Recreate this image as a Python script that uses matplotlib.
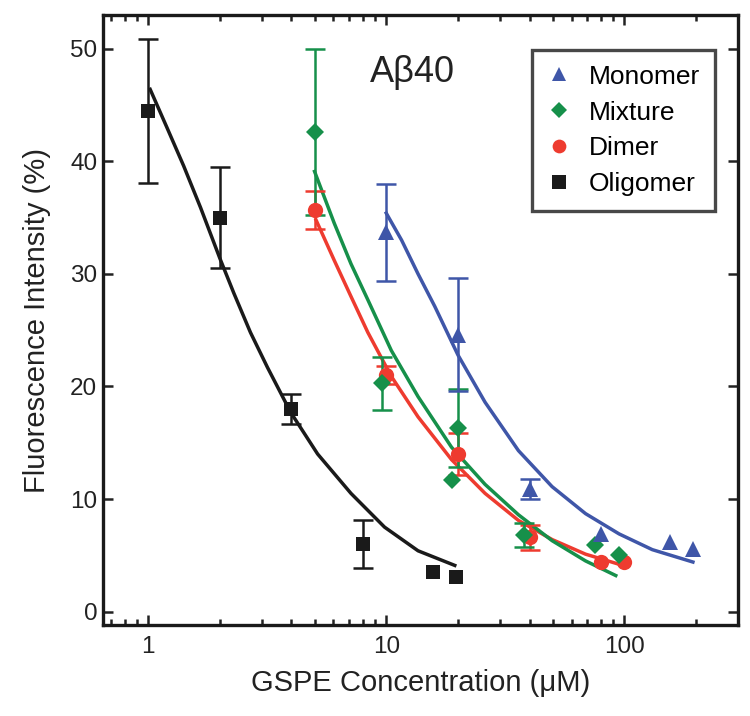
import numpy as np
import matplotlib
matplotlib.use('Agg')
import matplotlib.pyplot as plt

plt.rcParams['font.family'] = ['Liberation Sans', 'DejaVu Sans']

# measured points (x = GSPE concentration uM, y = fluorescence %)
mono_x = [10, 20, 40, 80, 155, 195]
mono_y = [33.7, 24.6, 10.9, 6.9, 6.2, 5.6]
mono_err = [4.3, 5.0, 0.9, 0, 0, 0]

mix_x = [5, 9.6, 18.8, 20, 38, 75, 95]
mix_y = [42.6, 20.3, 11.7, 16.3, 6.8, 5.9, 5.0]
mix_err = [7.4, 2.35, 0, 3.5, 1.1, 0, 0]

dim_x = [5, 10, 20, 40, 80, 100]
dim_y = [35.7, 21.0, 14.0, 6.6, 4.4, 4.4]
dim_err = [1.7, 0.8, 1.9, 1.1, 0, 0]

olig_x = [1, 2, 4, 8, 15.7, 19.7]
olig_y = [44.5, 35.0, 18.0, 6.0, 3.5, 3.1]
olig_err = [6.4, 4.5, 1.3, 2.1, 0, 0]

# fitted curves
mono_fit_x = [10, 11.6, 13.6, 16, 20, 26, 35.9, 49.7, 68.7, 95, 131, 194]
mono_fit_y = [35.4, 33.0, 30.0, 27.1, 22.8, 18.6, 14.3, 11.1, 8.7, 6.9, 5.5, 4.4]
mix_fit_x = [5, 6.05, 7.11, 8.37, 10.5, 13.6, 18.8, 26, 35.9, 49.7, 68.7, 92]
mix_fit_y = [39.1, 34.5, 30.9, 27.7, 23.2, 19.1, 14.6, 11.3, 8.6, 6.3, 4.5, 3.2]
dim_fit_x = [5.07, 6.05, 7.11, 8.37, 10.5, 13.6, 18.8, 26, 35.9, 49.7, 68.7, 95]
dim_fit_y = [34.8, 31.2, 28.0, 24.8, 20.9, 17.3, 13.5, 10.5, 8.1, 6.4, 5.1, 4.2]
olig_fit_x = [1.02, 1.2, 1.41, 1.66, 2.0, 2.29, 2.69, 3.17, 3.97, 5.15, 7.11, 9.84, 13.6, 19.4]
olig_fit_y = [46.4, 43.0, 39.6, 35.9, 31.4, 28.3, 24.8, 21.7, 17.7, 14.0, 10.5, 7.5, 5.4, 4.1]

blue = '#3F56A8'
green = '#16904A'
red = '#EE3B2F'
black = '#1A1A1A'

series = [
    ('Monomer', mono_x, mono_y, mono_err, mono_fit_x, mono_fit_y, blue, '^', 11.5),
    ('Mixture', mix_x, mix_y, mix_err, mix_fit_x, mix_fit_y, green, 'D', 9),
    ('Dimer', dim_x, dim_y, dim_err, dim_fit_x, dim_fit_y, red, 'o', 11),
    ('Oligomer', olig_x, olig_y, olig_err, olig_fit_x, olig_fit_y, black, 's', 10.5),
]

fig = plt.figure(figsize=(7.5, 7.16), dpi=100)
ax = fig.add_axes([0.137, 0.127, 0.847, 0.852])

handles = []
for name, x, y, err, fx, fy, col, mk, ms in reversed(series):
    ax.plot(fx, fy, color=col, lw=2.5, zorder=2, solid_joinstyle='round')
    x = np.array(x); y = np.array(y); err = np.array(err)
    m = err > 0
    ax.errorbar(x[m], y[m], yerr=err[m], fmt='none', ecolor=col,
                elinewidth=1.8, capsize=7, capthick=1.8, zorder=3)
    h, = ax.plot(x, y, linestyle='none', marker=mk, ms=ms, color=col,
                 markeredgewidth=0, label=name, zorder=4)
    handles.append(h)

ax.set_xscale('log')
ax.set_xlim(0.645, 300)
ax.set_ylim(-1.2, 53)
ax.set_yticks([0, 10, 20, 30, 40, 50])
ax.set_xticks([1, 10, 100])
ax.set_xticklabels(['1', '10', '100'])

ax.tick_params(which='both', direction='in', top=True, right=True,
               labelsize=17.5, width=1.8, colors='#222222')
ax.tick_params(which='major', length=7, pad=8)
ax.tick_params(which='minor', length=4)
ax.tick_params(axis='y', pad=4)
for s in ax.spines.values():
    s.set_linewidth(2.4)
    s.set_color('#1a1a1a')

ax.set_xlabel('GSPE Concentration (\u03bcM)', fontsize=21, color='#222222', labelpad=8)
ax.set_ylabel('Fluorescence Intensity (%)', fontsize=21, color='#222222', labelpad=14)

ax.text(0.42, 0.89, 'A\u03b240', transform=ax.transAxes, fontsize=26,
        ha='left', va='baseline', color='#222222')

leg = ax.legend(handles=handles[::-1], loc='upper right',
                bbox_to_anchor=(0.953, 0.930), bbox_transform=fig.transFigure,
                fontsize=19, frameon=True, fancybox=False, handlelength=0.9,
                handletextpad=0.7, labelspacing=0.45, borderpad=0.55,
                borderaxespad=0, markerscale=0.9)
leg.get_frame().set_edgecolor('#1a1a1a')
leg.get_frame().set_linewidth(2.4)

fig.savefig('out.png', dpi=100)
